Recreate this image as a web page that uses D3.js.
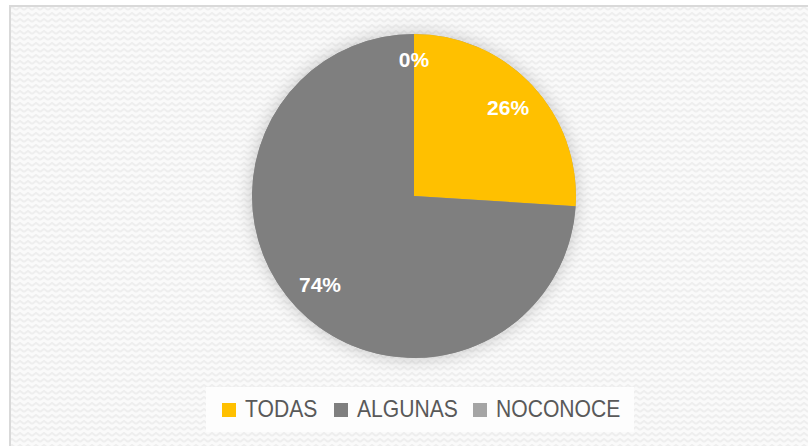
<!DOCTYPE html>
<html>
<head>
<meta charset="utf-8">
<script src="https://cdn.jsdelivr.net/npm/d3@7"></script>
<style>
  html, body { margin: 0; padding: 0; background: #ffffff; }
  svg { display: block; }
</style>
</head>
<body>
<svg id="chart" width="808" height="446"></svg>
<script>
const categories = ["TODAS", "ALGUNAS", "NO CONOCE"];
const legendLabels = ["TODAS", "ALGUNAS", "NOCONOCE"];
const values = [26, 74, 0];
const percentLabels = ["26%", "74%", "0%"];
const colors = ["#FFC000", "#7F7F7F", "#A5A5A5"];

const svg = d3.select("#chart");
const W = 808, H = 446;

const defs = svg.append("defs");
const pat = defs.append("pattern")
  .attr("id", "bg").attr("patternUnits", "userSpaceOnUse")
  .attr("width", 8).attr("height", 6);
pat.append("rect").attr("width", 8).attr("height", 6).attr("fill", "#fafafa");
pat.append("path").attr("d", "M0,4 L4,1 L8,4").attr("fill", "none")
  .attr("stroke", "#eeeeee").attr("stroke-width", 2);

const shadow = defs.append("filter").attr("id", "glow")
  .attr("x", "-20%").attr("y", "-20%").attr("width", "140%").attr("height", "140%");
shadow.append("feGaussianBlur").attr("in", "SourceAlpha").attr("stdDeviation", 9).attr("result", "b");
shadow.append("feComponentTransfer").attr("in", "b").attr("result", "c")
  .append("feFuncA").attr("type", "linear").attr("slope", 0.22);
const merge = shadow.append("feMerge");
merge.append("feMergeNode").attr("in", "c");
merge.append("feMergeNode").attr("in", "SourceGraphic");

// chart area background and border
svg.append("rect").attr("x", 0).attr("y", 0).attr("width", W).attr("height", H).attr("fill", "#ffffff");
svg.append("rect").attr("x", 10).attr("y", 6).attr("width", W).attr("height", H)
  .attr("fill", "url(#bg)").attr("stroke", "#d9d9d9").attr("stroke-width", 2);

const cx = 414, cy = 196, R = 162;

const pie = d3.pie().sort(null).value(d => d)(values);
const arc = d3.arc().innerRadius(0).outerRadius(R);
const g = svg.append("g").attr("transform", `translate(${cx},${cy})`);

g.append("circle").attr("r", R).attr("fill", "#999").attr("filter", "url(#glow)");
g.selectAll("path.slice").data(pie).join("path")
  .attr("class", "slice")
  .attr("d", arc)
  .attr("fill", (d, i) => colors[i]);

const labelArc = d3.arc().innerRadius(129).outerRadius(129);
const labelArcSmall = d3.arc().innerRadius(137).outerRadius(137);
g.selectAll("text.pct").data(pie).join("text")
  .attr("class", "pct")
  .attr("transform", d => {
    const c = (d.data === 0 ? labelArcSmall : labelArc).centroid(d);
    return `translate(${c[0]},${c[1]})`;
  })
  .attr("text-anchor", "middle")
  .attr("dy", "0.36em")
  .attr("font-family", "Liberation Sans, Arial, sans-serif")
  .attr("font-weight", "bold")
  .attr("font-size", 21)
  .attr("fill", "#ffffff")
  .text((d, i) => percentLabels[i]);

// legend
svg.append("rect").attr("x", 206).attr("y", 387).attr("width", 428).attr("height", 45)
  .attr("fill", "#fdfdfd");
const legendX = [222, 334, 473];
const lg = svg.append("g");
const items = lg.selectAll("g.item").data(categories).join("g")
  .attr("class", "item")
  .attr("transform", (d, i) => `translate(${legendX[i]},403)`);
items.append("rect").attr("width", 14).attr("height", 14).attr("fill", (d, i) => colors[i]);
items.append("text")
  .attr("x", 23).attr("y", 13.5)
  .attr("font-family", "Liberation Sans, Arial, sans-serif")
  .attr("font-size", 24)
  .attr("fill", "#595959")
  .attr("transform", "scale(0.88,1)")
  .attr("transform-origin", "23 0")
  .text((d, i) => legendLabels[i]);
</script>
</body>
</html>
